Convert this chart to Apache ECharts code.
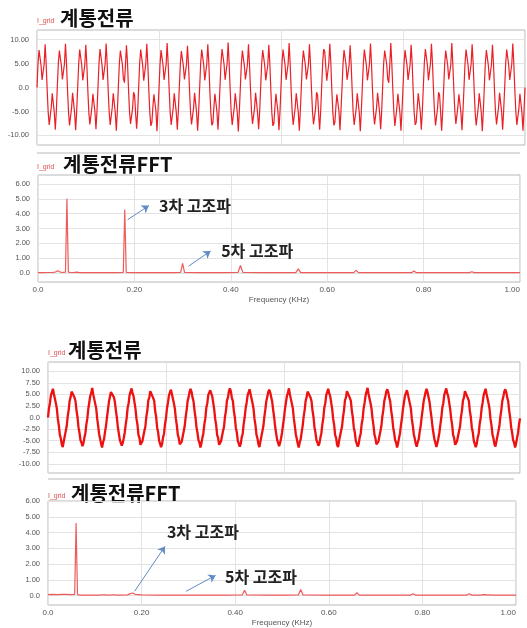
<!DOCTYPE html>
<html>
<head>
<meta charset="utf-8">
<script src="https://cdn.jsdelivr.net/npm/echarts@6.0.0/dist/echarts.min.js"></script>
<style>
html,body{margin:0;padding:0;background:#fff;}
#chart{width:527px;height:628px;}
</style>
</head>
<body>
<div id="chart"></div>
<script>
// ---------------- DATA ----------------
// Panel titles / texts
const TITLE_TIME = '계통전류';
const TITLE_FFT = '계통전류FFT';
const SIGNAL_NAME = 'I_grid';
const NOTE_3RD = '3차 고조파';
const NOTE_5TH = '5차 고조파';
const FREQ_AXIS_NAME = 'Frequency (KHz)';

// Tick labels
const TIME1_Y_TICKS = [-10, -5, 0, 5, 10];
const TIME2_Y_TICKS = [-10, -7.5, -5, -2.5, 0, 2.5, 5, 7.5, 10];
const FFT_Y_TICKS = [0, 1, 2, 3, 4, 5, 6];

// Waveform 1 (distorted grid current), 20 samples per 60 Hz cycle, 24 cycles (0 .. 0.4 s)
const W1_STEP = 1 / 1200;
const W1_VALUES = [
  0.0, 5.0, 7.8, 7.6, 4.6, 1.6, 1.2, 4.8, 9.0, 5.0, -0.5, -5.2, -7.8, -7.4, -4.2, -1.2, -1.4, -5.2, -8.8, -5.0,
  0.2, 5.1, 7.7, 7.5, 4.5, 1.7, 1.3, 4.9, 9.1, 5.1, -0.4, -5.1, -7.9, -7.5, -4.3, -1.1, -1.5, -5.3, -8.9, -5.1,
  -0.1, 4.9, 7.9, 7.7, 4.7, 1.5, 1.1, 4.7, 8.9, 4.9, -0.6, -5.3, -7.7, -7.3, -4.1, -1.3, -1.3, -5.1, -8.7, -4.9,
  0.1, 5.2, 8.0, 7.6, 4.6, 1.6, 1.2, 4.9, 9.2, 5.0, -0.5, -5.2, -7.8, -7.5, -4.2, -1.2, -1.4, -5.3, -9.0, -5.0,
  0.0, 5.0, 7.7, 7.8, 4.8, 1.8, 1.0, 4.6, 8.8, 5.2, -0.3, -5.0, -7.6, -7.6, -4.4, -1.0, -1.6, -5.4, -8.6, -5.2,
  0.1, 5.1, 7.9, 7.5, 4.5, 1.4, 1.3, 5.0, 9.1, 4.8, -0.7, -5.4, -8.0, -7.3, -4.0, -1.4, -1.2, -5.0, -9.1, -4.8,
  -0.2, 4.8, 7.8, 7.7, 4.6, 1.6, 1.2, 4.8, 9.3, 5.0, -0.5, -5.2, -7.8, -7.4, -4.2, -1.2, -1.4, -5.2, -8.8, -5.0,
  0.1, 5.0, 7.6, 7.4, 4.4, 1.7, 1.4, 4.7, 8.7, 4.9, -0.4, -5.1, -7.7, -7.5, -4.3, -1.1, -1.5, -5.3, -9.0, -5.1,
  0.0, 5.1, 7.9, 7.7, 4.7, 1.5, 1.1, 4.9, 9.0, 5.1, -0.6, -5.3, -7.9, -7.4, -4.1, -1.3, -1.3, -5.1, -8.8, -4.9,
  0.2, 5.2, 8.0, 7.8, 4.8, 1.6, 1.2, 5.0, 9.4, 5.0, -0.5, -5.2, -7.8, -7.6, -4.2, -1.2, -1.4, -5.2, -9.2, -5.0,
  -0.1, 4.9, 7.7, 7.5, 4.5, 1.7, 1.3, 4.8, 9.0, 4.9, -0.4, -5.0, -7.6, -7.3, -4.3, -1.1, -1.5, -5.4, -8.7, -5.1,
  0.0, 5.0, 7.8, 7.6, 4.6, 1.5, 1.1, 4.7, 8.9, 5.1, -0.5, -5.3, -8.0, -7.5, -4.2, -1.3, -1.3, -5.1, -8.9, -5.0,
  0.1, 5.1, 7.9, 7.7, 4.7, 1.6, 1.2, 4.9, 9.3, 5.0, -0.6, -5.2, -7.8, -7.4, -4.1, -1.2, -1.4, -5.2, -9.0, -4.9,
  0.0, 5.0, 7.7, 7.6, 4.6, 1.7, 1.3, 4.8, 9.0, 4.9, -0.4, -5.1, -7.7, -7.6, -4.4, -1.0, -1.6, -5.3, -8.8, -5.1,
  0.1, 5.2, 8.0, 7.5, 4.5, 1.4, 1.1, 5.0, 9.1, 5.1, -0.5, -5.2, -7.9, -7.3, -4.0, -1.4, -1.2, -5.0, -8.9, -4.8,
  -0.1, 4.9, 7.8, 7.7, 4.7, 1.6, 1.2, 4.7, 8.8, 5.0, -0.6, -5.3, -7.8, -7.5, -4.3, -1.2, -1.4, -5.3, -9.1, -5.0,
  0.0, 5.0, 7.9, 7.6, 4.6, 1.5, 1.3, 4.9, 9.2, 5.0, -0.5, -5.2, -7.7, -7.4, -4.2, -1.1, -1.5, -5.2, -8.7, -5.1,
  0.2, 5.1, 7.7, 7.8, 4.8, 1.7, 1.0, 4.8, 9.3, 4.9, -0.4, -5.1, -8.0, -7.6, -4.1, -1.3, -1.3, -5.4, -9.0, -4.9,
  0.0, 5.0, 7.8, 7.5, 4.5, 1.6, 1.2, 4.8, 8.9, 5.1, -0.6, -5.3, -7.8, -7.3, -4.2, -1.2, -1.4, -5.1, -8.8, -5.0,
  0.1, 5.2, 8.0, 7.7, 4.7, 1.5, 1.1, 5.0, 9.1, 5.0, -0.5, -5.2, -7.9, -7.5, -4.3, -1.0, -1.6, -5.2, -9.0, -5.1,
  -0.1, 4.9, 7.7, 7.6, 4.6, 1.7, 1.3, 4.7, 9.3, 4.9, -0.4, -5.0, -7.6, -7.4, -4.0, -1.4, -1.2, -5.3, -8.9, -4.8,
  0.0, 5.0, 7.9, 7.7, 4.7, 1.6, 1.2, 4.9, 9.0, 5.1, -0.5, -5.3, -7.9, -7.5, -4.2, -1.2, -1.4, -5.2, -9.1, -5.0,
  0.1, 5.1, 7.8, 7.5, 4.5, 1.5, 1.1, 4.8, 8.9, 5.0, -0.6, -5.2, -7.7, -7.3, -4.1, -1.1, -1.5, -5.1, -8.8, -4.9,
  0.0, 5.0, 7.9, 7.6, 4.6, 1.6, 1.2, 4.9, 9.2, 4.9, -0.5, -5.1, -7.8, -7.6, -4.3, -1.3, -1.3, -5.3, -9.0, -5.0,
  0.0
];

// Waveform 2 (compensated grid current), 20 samples per cycle, 24 cycles
const W2_STEP = 1 / 1200;
const W2_VALUES = [
  0.0, 2.0, 3.2, 4.8, 5.2, 6.2, 5.1, 4.7, 3.1, 1.9, -0.3, -1.7, -3.7, -4.5, -5.8, -6.4, -5.2, -4.8, -3.0, -1.9,
  0.2, 1.6, 3.6, 4.4, 5.6, 6.0, 5.5, 4.3, 3.5, 1.5, 0.1, -2.1, -3.3, -4.9, -5.4, -6.2, -5.6, -4.4, -3.4, -1.5,
  -0.2, 1.9, 3.3, 4.7, 5.3, 6.4, 5.0, 4.8, 3.0, 2.0, -0.2, -1.8, -3.6, -4.6, -5.7, -6.5, -5.3, -4.7, -3.1, -1.8,
  0.1, 1.7, 3.5, 4.5, 5.5, 5.9, 5.4, 4.4, 3.4, 1.6, 0.0, -2.0, -3.4, -4.8, -5.5, -6.1, -5.5, -4.5, -3.3, -1.6,
  -0.1, 2.1, 3.1, 4.9, 5.1, 6.3, 5.2, 4.6, 3.2, 1.8, -0.3, -1.6, -3.8, -4.4, -5.9, -6.3, -5.1, -4.9, -2.9, -2.0,
  0.2, 1.5, 3.7, 4.3, 5.7, 6.1, 5.6, 4.2, 3.6, 1.4, 0.1, -2.2, -3.2, -5.0, -5.3, -6.4, -5.7, -4.3, -3.5, -1.4,
  -0.1, 2.0, 3.2, 4.8, 5.2, 6.0, 5.1, 4.7, 3.1, 1.9, -0.2, -1.7, -3.7, -4.5, -5.8, -6.2, -5.2, -4.8, -3.0, -1.9,
  0.1, 1.6, 3.6, 4.4, 5.6, 6.2, 5.5, 4.3, 3.5, 1.5, 0.0, -2.1, -3.3, -4.9, -5.4, -6.5, -5.6, -4.4, -3.4, -1.5,
  -0.2, 2.1, 3.1, 4.9, 5.1, 5.9, 5.2, 4.6, 3.2, 1.8, -0.3, -1.6, -3.8, -4.4, -5.9, -6.1, -5.1, -4.9, -2.9, -2.0,
  0.2, 1.5, 3.7, 4.3, 5.7, 6.3, 5.6, 4.2, 3.6, 1.4, 0.1, -2.2, -3.2, -5.0, -5.3, -6.3, -5.7, -4.3, -3.5, -1.4,
  0.0, 2.0, 3.2, 4.8, 5.2, 6.1, 5.1, 4.7, 3.1, 1.9, -0.3, -1.7, -3.7, -4.5, -5.8, -6.4, -5.2, -4.8, -3.0, -1.9,
  0.1, 1.7, 3.5, 4.5, 5.5, 6.0, 5.4, 4.4, 3.4, 1.6, 0.0, -2.0, -3.4, -4.8, -5.5, -6.2, -5.5, -4.5, -3.3, -1.6,
  -0.1, 1.9, 3.3, 4.7, 5.3, 6.3, 5.0, 4.8, 3.0, 2.0, -0.2, -1.8, -3.6, -4.6, -5.7, -6.5, -5.3, -4.7, -3.1, -1.8,
  0.2, 1.6, 3.6, 4.4, 5.6, 5.9, 5.5, 4.3, 3.5, 1.5, 0.1, -2.1, -3.3, -4.9, -5.4, -6.1, -5.6, -4.4, -3.4, -1.5,
  -0.1, 2.1, 3.1, 4.9, 5.1, 6.2, 5.2, 4.6, 3.2, 1.8, -0.3, -1.6, -3.8, -4.4, -5.9, -6.4, -5.1, -4.9, -2.9, -2.0,
  0.1, 1.5, 3.7, 4.3, 5.7, 6.0, 5.6, 4.2, 3.6, 1.4, 0.0, -2.2, -3.2, -5.0, -5.3, -6.3, -5.7, -4.3, -3.5, -1.4,
  -0.2, 2.0, 3.2, 4.8, 5.2, 6.4, 5.1, 4.7, 3.1, 1.9, -0.2, -1.7, -3.7, -4.5, -5.8, -6.2, -5.2, -4.8, -3.0, -1.9,
  0.2, 1.6, 3.6, 4.4, 5.6, 6.1, 5.5, 4.3, 3.5, 1.5, 0.1, -2.1, -3.3, -4.9, -5.4, -6.5, -5.6, -4.4, -3.4, -1.5,
  -0.1, 1.9, 3.3, 4.7, 5.3, 5.9, 5.0, 4.8, 3.0, 2.0, -0.3, -1.8, -3.6, -4.6, -5.7, -6.3, -5.3, -4.7, -3.1, -1.8,
  0.1, 1.7, 3.5, 4.5, 5.5, 6.2, 5.4, 4.4, 3.4, 1.6, 0.0, -2.0, -3.4, -4.8, -5.5, -6.4, -5.5, -4.5, -3.3, -1.6,
  0.0, 2.1, 3.1, 4.9, 5.1, 6.3, 5.2, 4.6, 3.2, 1.8, -0.2, -1.6, -3.8, -4.4, -5.9, -6.1, -5.1, -4.9, -2.9, -2.0,
  0.2, 1.5, 3.7, 4.3, 5.7, 6.0, 5.6, 4.2, 3.6, 1.4, 0.1, -2.2, -3.2, -5.0, -5.3, -6.4, -5.7, -4.3, -3.5, -1.4,
  -0.1, 2.0, 3.2, 4.8, 5.2, 6.2, 5.1, 4.7, 3.1, 1.9, -0.3, -1.7, -3.7, -4.5, -5.8, -6.3, -5.2, -4.8, -3.0, -1.9,
  0.1, 1.6, 3.6, 4.4, 5.6, 6.1, 5.5, 4.3, 3.5, 1.5, 0.0, -2.1, -3.3, -4.9, -5.4, -6.5, -5.6, -4.4, -3.4, -1.5,
  -0.2
];

// FFT 1 (before compensation): frequency in kHz and magnitude
const FFT1_FREQ = [0.000, 0.010, 0.020, 0.030, 0.036, 0.041, 0.046, 0.052, 0.057, 0.060, 0.063, 0.068, 0.074, 0.080, 0.086, 0.100, 0.120, 0.140, 0.160, 0.177, 0.180, 0.183, 0.200, 0.240, 0.280, 0.296, 0.300, 0.304, 0.340, 0.380, 0.415, 0.420, 0.425, 0.470, 0.510, 0.535, 0.540, 0.545, 0.600, 0.655, 0.660, 0.665, 0.720, 0.775, 0.780, 0.785, 0.840, 0.895, 0.900, 0.905, 0.950, 1.000];
const FFT1_AMP  = [0.03, 0.03, 0.04, 0.05, 0.07, 0.16, 0.07, 0.05, 0.06, 5.00, 0.06, 0.04, 0.04, 0.07, 0.03, 0.03, 0.03, 0.03, 0.03, 0.05, 4.28, 0.05, 0.03, 0.03, 0.03, 0.04, 0.66, 0.04, 0.03, 0.03, 0.04, 0.52, 0.04, 0.03, 0.03, 0.03, 0.28, 0.03, 0.03, 0.03, 0.18, 0.03, 0.03, 0.03, 0.14, 0.03, 0.03, 0.03, 0.09, 0.03, 0.03, 0.03];

// FFT 2 (after compensation)
const FFT2_FREQ = [0.000, 0.010, 0.020, 0.030, 0.040, 0.050, 0.057, 0.060, 0.063, 0.070, 0.090, 0.110, 0.120, 0.130, 0.140, 0.150, 0.170, 0.176, 0.181, 0.186, 0.200, 0.240, 0.280, 0.296, 0.300, 0.304, 0.340, 0.380, 0.415, 0.420, 0.425, 0.470, 0.510, 0.535, 0.540, 0.545, 0.600, 0.655, 0.660, 0.665, 0.720, 0.775, 0.780, 0.785, 0.840, 0.895, 0.900, 0.905, 0.925, 0.930, 0.950, 1.000];
const FFT2_AMP  = [0.06, 0.07, 0.06, 0.08, 0.07, 0.06, 0.08, 4.60, 0.06, 0.03, 0.03, 0.03, 0.05, 0.03, 0.05, 0.03, 0.04, 0.12, 0.16, 0.08, 0.04, 0.03, 0.03, 0.03, 0.06, 0.03, 0.03, 0.03, 0.04, 0.34, 0.04, 0.03, 0.03, 0.04, 0.38, 0.04, 0.03, 0.03, 0.18, 0.03, 0.03, 0.03, 0.12, 0.03, 0.03, 0.03, 0.12, 0.03, 0.03, 0.06, 0.03, 0.03];

// Annotation anchors in data coordinates [freq kHz, magnitude]
const FFT1_ARROW3 = [[0.186, 3.59], [0.230, 4.54]];
const FFT1_ARROW5 = [[0.312, 0.46], [0.358, 1.48]];
const FFT1_TEXT3 = [0.250, 4.54];
const FFT1_TEXT5 = [0.379, 1.48];
const FFT2_ARROW3 = [[0.185, 0.27], [0.250, 3.12]];
const FFT2_ARROW5 = [[0.295, 0.27], [0.358, 1.28]];
const FFT2_TEXT3 = [0.253, 4.03];
const FFT2_TEXT5 = [0.377, 1.17];

// ---------------- CHART ----------------
const FONT = '"Liberation Sans", Arial, sans-serif';
const KFONT = '"Noto Sans CJK KR", sans-serif';
const fmt = v => (v === 0 ? '0.0' : v.toFixed(2));

const w1 = W1_VALUES.map((v, i) => [i * W1_STEP, v]);
const w2 = W2_VALUES.map((v, i) => [i * W2_STEP, v]);
const f1 = FFT1_FREQ.map((f, i) => [f, FFT1_AMP[i]]);
const f2 = FFT2_FREQ.map((f, i) => [f, FFT2_AMP[i]]);

const gridStyle = { show: true, borderColor: '#b8b8b8', borderWidth: 1, backgroundColor: '#fff' };
const splitStyle = { show: true, lineStyle: { color: '#e3e3e3', width: 1 } };

function timeX(gi) {
  return {
    type: 'value', gridIndex: gi, min: 0, max: 0.4, interval: 0.1,
    axisLine: { show: false }, axisTick: { show: false }, axisLabel: { show: false },
    splitLine: splitStyle
  };
}
function freqX(gi) {
  return {
    type: 'value', gridIndex: gi, min: 0, max: 1, interval: 0.2,
    axisLine: { show: false }, axisTick: { show: false },
    axisLabel: { formatter: fmt, fontSize: 8, color: '#555', fontFamily: FONT, margin: 4,
                 showMinLabel: true, showMaxLabel: true, alignMaxLabel: 'right' },
    splitLine: splitStyle,
    name: FREQ_AXIS_NAME, nameLocation: 'middle', nameGap: 14,
    nameTextStyle: { fontSize: 8, color: '#555', fontFamily: FONT }
  };
}
function valY(gi, min, max, ticks) {
  return {
    type: 'value', gridIndex: gi, min: min, max: max,
    axisLine: { show: false },
    axisTick: { show: false, customValues: ticks },
    axisLabel: { customValues: ticks, formatter: fmt, fontSize: 7.5, color: '#555', fontFamily: FONT, margin: 8 },
    splitLine: splitStyle
  };
}

function arrowLines(a, b) {
  return {
    silent: true, symbol: ['none', 'arrow'], symbolSize: 7, animation: false,
    label: { show: false },
    lineStyle: { color: '#5f8cc4', width: 1, type: 'solid' },
    emphasis: { disabled: true },
    data: [
      [{ coord: a[0] }, { coord: a[1] }],
      [{ coord: b[0] }, { coord: b[1] }]
    ]
  };
}
function notes(p3, p5) {
  const lab = { show: true, position: 'right', distance: 0, formatter: '{b}',
                fontSize: 16, fontWeight: 'bold', color: '#222', fontFamily: KFONT };
  return {
    silent: true, symbol: 'circle', symbolSize: 1, animation: false,
    itemStyle: { color: 'rgba(0,0,0,0)' },
    label: lab,
    data: [
      { name: NOTE_3RD, coord: p3 },
      { name: NOTE_5TH, coord: p5 }
    ]
  };
}

function titleTexts(x, y, smallX, text) {
  return [
    { type: 'text', x: smallX, y: y + 3, silent: true,
      style: { text: SIGNAL_NAME, fill: '#e05050', font: '7px ' + FONT, align: 'left', verticalAlign: 'middle' } },
    { type: 'text', x: x, y: y, silent: true,
      style: { text: text, fill: '#111', font: 'bold 20px ' + KFONT, align: 'left', verticalAlign: 'middle' } }
  ];
}

const option = {
  backgroundColor: '#fff',
  animation: false,
  grid: [
    Object.assign({ left: 37, top: 30, width: 488, height: 115 }, gridStyle),
    Object.assign({ left: 38, top: 175, width: 482, height: 107 }, gridStyle),
    Object.assign({ left: 48, top: 362, width: 472, height: 111 }, gridStyle),
    Object.assign({ left: 48, top: 501, width: 468, height: 104 }, gridStyle)
  ],
  xAxis: [timeX(0), freqX(1), timeX(2), freqX(3)],
  yAxis: [
    valY(0, -12, 12, TIME1_Y_TICKS),
    valY(1, -0.6, 6.6, FFT_Y_TICKS),
    valY(2, -12, 12, TIME2_Y_TICKS),
    valY(3, -0.6, 6.0, FFT_Y_TICKS)
  ],
  graphic: [].concat(
    titleTexts(60, 18, 37, TITLE_TIME),
    titleTexts(63, 164, 37, TITLE_FFT),
    titleTexts(68, 350, 48, TITLE_TIME),
    titleTexts(71, 493, 48, TITLE_FFT),
    [
      { type: 'line', silent: true, shape: { x1: 37, y1: 153, x2: 520, y2: 153 }, style: { stroke: '#dcdcdc', lineWidth: 2 } },
      { type: 'line', silent: true, shape: { x1: 48, y1: 479, x2: 514, y2: 479 }, style: { stroke: '#dcdcdc', lineWidth: 2 } }
    ]
  ),
  series: [
    { type: 'line', xAxisIndex: 0, yAxisIndex: 0, data: w1, showSymbol: false, symbol: 'none',
      lineStyle: { color: '#ea2026', width: 1.2 }, itemStyle: { color: '#ea2026' } },
    { type: 'line', xAxisIndex: 1, yAxisIndex: 1, data: f1, showSymbol: false, symbol: 'none',
      lineStyle: { color: '#ee5b5b', width: 1.2 }, itemStyle: { color: '#ee5b5b' },
      markLine: arrowLines(FFT1_ARROW3, FFT1_ARROW5),
      markPoint: notes(FFT1_TEXT3, FFT1_TEXT5) },
    { type: 'line', xAxisIndex: 2, yAxisIndex: 2, data: w2, showSymbol: false, symbol: 'none',
      lineStyle: { color: '#ee1111', width: 2.3 }, itemStyle: { color: '#ee1111' } },
    { type: 'line', xAxisIndex: 3, yAxisIndex: 3, data: f2, showSymbol: false, symbol: 'none',
      lineStyle: { color: '#ee5b5b', width: 1.2 }, itemStyle: { color: '#ee5b5b' },
      markLine: arrowLines(FFT2_ARROW3, FFT2_ARROW5),
      markPoint: notes(FFT2_TEXT3, FFT2_TEXT5) }
  ]
};

const chart = echarts.init(document.getElementById('chart'), null, { renderer: 'canvas' });
chart.setOption(option);
</script>
</body>
</html>
